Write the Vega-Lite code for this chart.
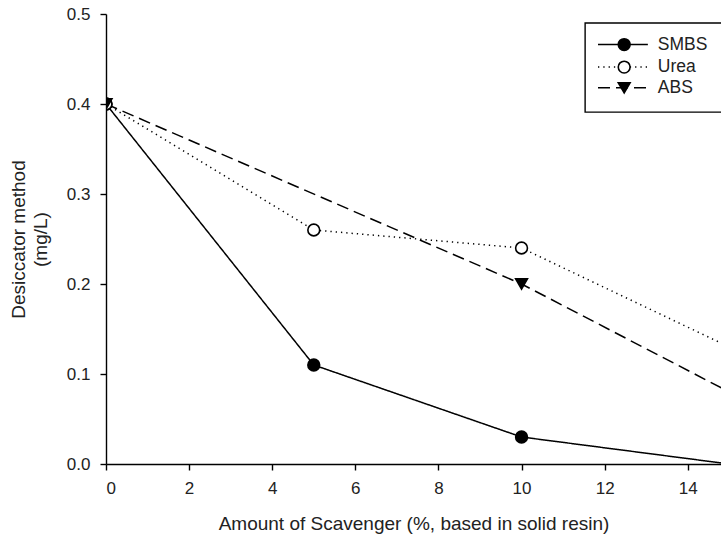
{
  "$schema": "https://vega.github.io/schema/vega-lite/v6.json",
  "width": 615,
  "height": 450,
  "autosize": {"type": "none"},
  "padding": {"left": 106, "top": 14, "right": 0, "bottom": 75},
  "background": "white",
  "config": {
    "view": {"stroke": null},
    "font": "Liberation Sans",
    "axis": {
      "domainColor": "black",
      "tickColor": "black",
      "labelColor": "#222",
      "titleColor": "#222",
      "labelFont": "Liberation Sans",
      "titleFont": "Liberation Sans",
      "labelFontSize": 17,
      "titleFontSize": 19,
      "titleFontWeight": "normal",
      "grid": false,
      "tickSize": 6,
      "domainWidth": 1.4,
      "tickWidth": 1.4
    }
  },
  "datasets": {
    "main": [
      {"x": 0, "y": 0.4, "series": "SMBS"},
      {"x": 5, "y": 0.11, "series": "SMBS"},
      {"x": 10, "y": 0.03, "series": "SMBS"},
      {"x": 15, "y": 0.0, "series": "SMBS"},
      {"x": 0, "y": 0.4, "series": "Urea"},
      {"x": 5, "y": 0.26, "series": "Urea"},
      {"x": 10, "y": 0.24, "series": "Urea"},
      {"x": 15, "y": 0.13, "series": "Urea"},
      {"x": 0, "y": 0.4, "series": "ABS"},
      {"x": 10, "y": 0.2, "series": "ABS"},
      {"x": 15, "y": 0.08, "series": "ABS"}
    ],
    "legendBox": [{"x": 11.53, "x2": 15.2, "y": 0.49, "y2": 0.391}],
    "legendLines": [
      {"x": 11.84, "y": 0.466, "series": "SMBS"},
      {"x": 13.04, "y": 0.466, "series": "SMBS"},
      {"x": 11.84, "y": 0.441, "series": "Urea"},
      {"x": 13.04, "y": 0.441, "series": "Urea"},
      {"x": 11.84, "y": 0.418, "series": "ABS"},
      {"x": 13.04, "y": 0.418, "series": "ABS"}
    ],
    "legendItems": [
      {"x": 12.47, "tx": 13.28, "y": 0.466, "series": "SMBS"},
      {"x": 12.47, "tx": 13.28, "y": 0.441, "series": "Urea"},
      {"x": 12.47, "tx": 13.28, "y": 0.418, "series": "ABS"}
    ]
  },
  "encoding": {
    "x": {
      "field": "x", "type": "quantitative",
      "scale": {"domain": [0, 14.8], "nice": false, "zero": false},
      "axis": {"values": [0, 2, 4, 6, 8, 10, 12, 14], "title": "Amount of Scavenger (%, based in solid resin)", "labelPadding": 10, "titlePadding": 18, "format": "d"}
    },
    "y": {
      "field": "y", "type": "quantitative",
      "scale": {"domain": [0, 0.5], "nice": false},
      "axis": {"values": [0, 0.1, 0.2, 0.3, 0.4, 0.5], "format": ".1f", "title": ["Desiccator method", "(mg/L)"], "labelPadding": 10, "titlePadding": 16, "titleLineHeight": 22}
    }
  },
  "layer": [
    {
      "data": {"name": "main"},
      "mark": {"type": "line", "color": "black", "strokeWidth": 1.5, "clip": true},
      "encoding": {
        "strokeDash": {"field": "series", "type": "nominal", "scale": {"domain": ["SMBS", "Urea", "ABS"], "range": [[1, 0], [1.3, 4], [12, 6]]}, "legend": null}
      }
    },
    {
      "data": {"name": "main"},
      "mark": {"type": "point", "filled": true, "stroke": "black", "strokeWidth": 1.6, "size": 140, "opacity": 1, "clip": true},
      "encoding": {
        "shape": {"field": "series", "type": "nominal", "scale": {"domain": ["SMBS", "Urea", "ABS"], "range": ["circle", "circle", "triangle-down"]}, "legend": null},
        "fill": {"field": "series", "type": "nominal", "scale": {"domain": ["SMBS", "Urea", "ABS"], "range": ["black", "white", "black"]}, "legend": null}
      }
    },
    {
      "data": {"name": "legendBox"},
      "mark": {"type": "rect", "fill": "white", "stroke": "black", "strokeWidth": 1.4, "clip": true},
      "encoding": {
        "x": {"field": "x", "type": "quantitative"},
        "x2": {"field": "x2"},
        "y": {"field": "y", "type": "quantitative"},
        "y2": {"field": "y2"}
      }
    },
    {
      "data": {"name": "legendLines"},
      "mark": {"type": "line", "color": "black", "strokeWidth": 1.5},
      "encoding": {
        "strokeDash": {"field": "series", "type": "nominal", "scale": {"domain": ["SMBS", "Urea", "ABS"], "range": [[1, 0], [1.3, 4], [12, 6]]}, "legend": null}
      }
    },
    {
      "data": {"name": "legendItems"},
      "mark": {"type": "point", "filled": true, "stroke": "black", "strokeWidth": 1.6, "size": 140, "opacity": 1},
      "encoding": {
        "shape": {"field": "series", "type": "nominal", "scale": {"domain": ["SMBS", "Urea", "ABS"], "range": ["circle", "circle", "triangle-down"]}, "legend": null},
        "fill": {"field": "series", "type": "nominal", "scale": {"domain": ["SMBS", "Urea", "ABS"], "range": ["black", "white", "black"]}, "legend": null}
      }
    },
    {
      "data": {"name": "legendItems"},
      "mark": {"type": "text", "align": "left", "baseline": "middle", "fontSize": 17.5, "font": "Liberation Sans", "color": "#222"},
      "encoding": {
        "x": {"field": "tx", "type": "quantitative"},
        "text": {"field": "series", "type": "nominal"}
      }
    },
    {
      "data": {"values": [{}]},
      "mark": {"type": "rule", "color": "black", "strokeWidth": 1.4},
      "encoding": {
        "y": {"datum": 0.5, "type": "quantitative"}
      }
    }
  ]
}
